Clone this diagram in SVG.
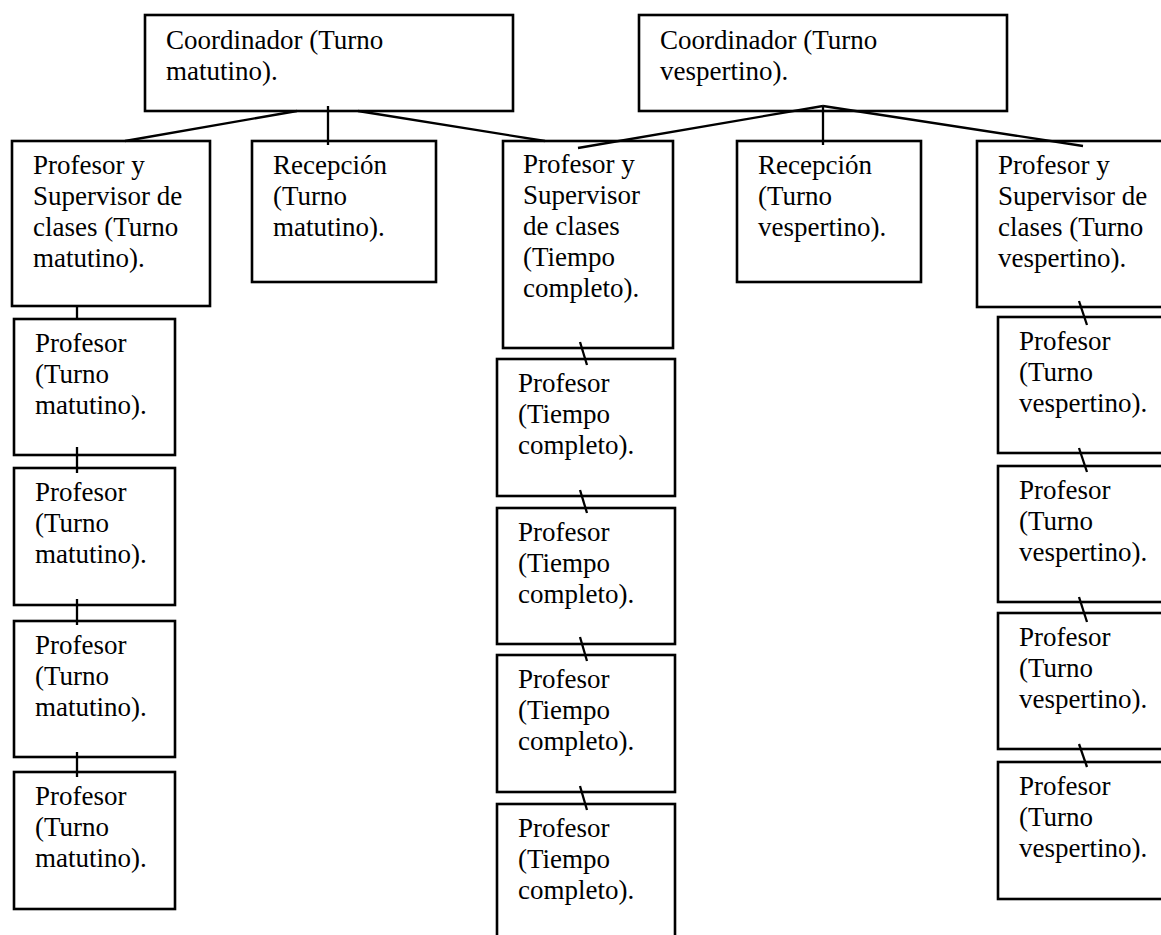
<svg xmlns="http://www.w3.org/2000/svg" width="1161" height="935" viewBox="0 0 1161 935">
<style>
.box{fill:#fff;stroke:#000;stroke-width:2.6}
.t{font-family:"Liberation Serif","Times New Roman",serif;font-size:27px;fill:#000}
.c line{stroke:#000;stroke-width:2.3;stroke-linecap:butt}
</style>
<rect width="1161" height="935" fill="#fff"/>
<g id="coord1"><rect class="box" x="145" y="15" width="368" height="96"/>
<text class="t" x="166" y="49">Coordinador (Turno</text><text class="t" x="166" y="80">matutino).</text></g>
<g id="coord2"><rect class="box" x="639" y="15" width="368" height="96"/>
<text class="t" x="660" y="49">Coordinador (Turno</text><text class="t" x="660" y="80">vespertino).</text></g>
<g id="sup1"><rect class="box" x="12" y="141" width="198" height="165"/>
<text class="t" x="33" y="174">Profesor y</text><text class="t" x="33" y="205">Supervisor de</text><text class="t" x="33" y="236">clases (Turno</text><text class="t" x="33" y="267">matutino).</text></g>
<g id="recep1"><rect class="box" x="252" y="141" width="184" height="141"/>
<text class="t" x="273" y="174">Recepción</text><text class="t" x="273" y="205">(Turno</text><text class="t" x="273" y="236">matutino).</text></g>
<g id="supmid"><rect class="box" x="503" y="141" width="170" height="207"/>
<text class="t" x="523" y="173">Profesor y</text><text class="t" x="523" y="204">Supervisor</text><text class="t" x="523" y="235">de clases</text><text class="t" x="523" y="266">(Tiempo</text><text class="t" x="523" y="297">completo).</text></g>
<g id="recep2"><rect class="box" x="737" y="141" width="184" height="141"/>
<text class="t" x="758" y="174">Recepción</text><text class="t" x="758" y="205">(Turno</text><text class="t" x="758" y="236">vespertino).</text></g>
<g id="sup2"><rect class="box" x="977" y="141" width="200" height="166"/>
<text class="t" x="998" y="174">Profesor y</text><text class="t" x="998" y="205">Supervisor de</text><text class="t" x="998" y="236">clases (Turno</text><text class="t" x="998" y="267">vespertino).</text></g>
<g id="profM1"><rect class="box" x="14" y="319" width="161" height="136"/>
<text class="t" x="35" y="352">Profesor</text><text class="t" x="35" y="383">(Turno</text><text class="t" x="35" y="414">matutino).</text></g>
<g id="profM2"><rect class="box" x="14" y="468" width="161" height="137"/>
<text class="t" x="35" y="501">Profesor</text><text class="t" x="35" y="532">(Turno</text><text class="t" x="35" y="563">matutino).</text></g>
<g id="profM3"><rect class="box" x="14" y="621" width="161" height="136"/>
<text class="t" x="35" y="654">Profesor</text><text class="t" x="35" y="685">(Turno</text><text class="t" x="35" y="716">matutino).</text></g>
<g id="profM4"><rect class="box" x="14" y="772" width="161" height="137"/>
<text class="t" x="35" y="805">Profesor</text><text class="t" x="35" y="836">(Turno</text><text class="t" x="35" y="867">matutino).</text></g>
<g id="profT1"><rect class="box" x="497" y="359" width="178" height="137"/>
<text class="t" x="518" y="392">Profesor</text><text class="t" x="518" y="423">(Tiempo</text><text class="t" x="518" y="454">completo).</text></g>
<g id="profT2"><rect class="box" x="497" y="508" width="178" height="136"/>
<text class="t" x="518" y="541">Profesor</text><text class="t" x="518" y="572">(Tiempo</text><text class="t" x="518" y="603">completo).</text></g>
<g id="profT3"><rect class="box" x="497" y="655" width="178" height="137"/>
<text class="t" x="518" y="688">Profesor</text><text class="t" x="518" y="719">(Tiempo</text><text class="t" x="518" y="750">completo).</text></g>
<g id="profT4"><rect class="box" x="497" y="804" width="178" height="150"/>
<text class="t" x="518" y="837">Profesor</text><text class="t" x="518" y="868">(Tiempo</text><text class="t" x="518" y="899">completo).</text></g>
<g id="profV1"><rect class="box" x="998" y="317" width="180" height="136"/>
<text class="t" x="1019" y="350">Profesor</text><text class="t" x="1019" y="381">(Turno</text><text class="t" x="1019" y="412">vespertino).</text></g>
<g id="profV2"><rect class="box" x="998" y="466" width="180" height="136"/>
<text class="t" x="1019" y="499">Profesor</text><text class="t" x="1019" y="530">(Turno</text><text class="t" x="1019" y="561">vespertino).</text></g>
<g id="profV3"><rect class="box" x="998" y="613" width="180" height="136"/>
<text class="t" x="1019" y="646">Profesor</text><text class="t" x="1019" y="677">(Turno</text><text class="t" x="1019" y="708">vespertino).</text></g>
<g id="profV4"><rect class="box" x="998" y="762" width="180" height="137"/>
<text class="t" x="1019" y="795">Profesor</text><text class="t" x="1019" y="826">(Turno</text><text class="t" x="1019" y="857">vespertino).</text></g>
<g id="connectors" class="c">
<line x1="297" y1="111" x2="125" y2="141"/>
<line x1="328" y1="106" x2="328" y2="145"/>
<line x1="358" y1="111" x2="545" y2="141"/>
<line x1="823" y1="106" x2="578" y2="148"/>
<line x1="823" y1="106" x2="823" y2="145"/>
<line x1="823" y1="106" x2="1083" y2="146"/>
<line x1="77" y1="306" x2="77" y2="319"/>
<line x1="77" y1="447" x2="77" y2="473"/>
<line x1="77" y1="599" x2="77" y2="625"/>
<line x1="77" y1="752" x2="77" y2="777"/>
<line x1="580" y1="342" x2="587" y2="365"/>
<line x1="580" y1="490" x2="587" y2="513"/>
<line x1="580" y1="637" x2="587" y2="661"/>
<line x1="580" y1="786" x2="587" y2="810"/>
<line x1="1079" y1="301" x2="1087" y2="325"/>
<line x1="1079" y1="448" x2="1087" y2="472"/>
<line x1="1079" y1="597" x2="1087" y2="622"/>
<line x1="1079" y1="744" x2="1087" y2="767"/>
</g>
</svg>
